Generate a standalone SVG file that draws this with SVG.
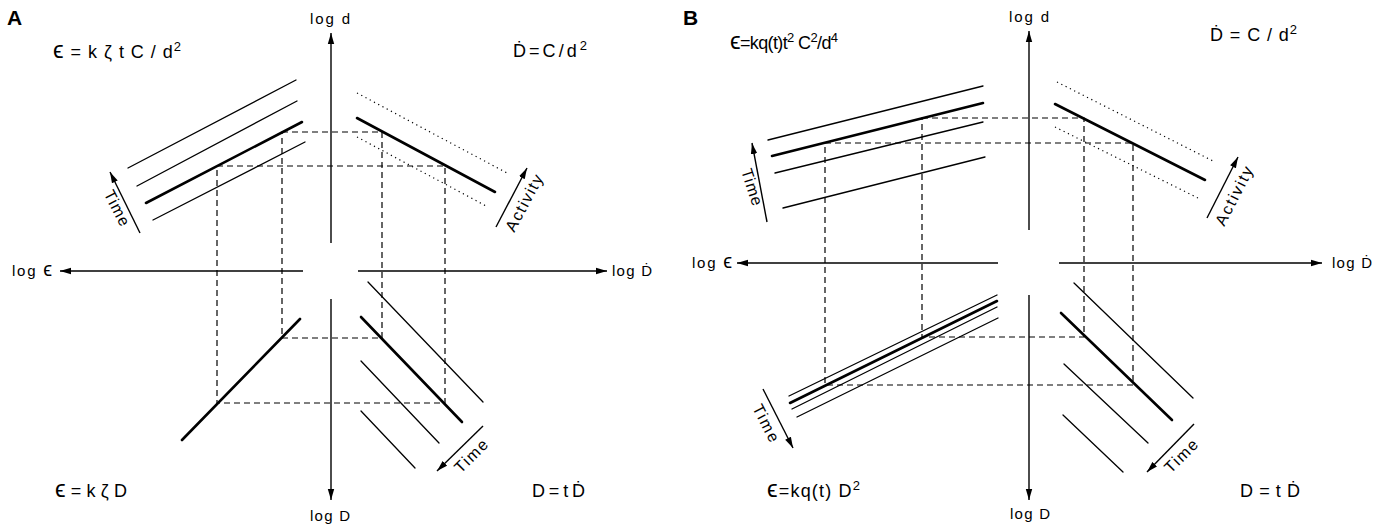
<svg xmlns="http://www.w3.org/2000/svg" width="1386" height="527" viewBox="0 0 1386 527">
<defs>
<marker id="ah" markerUnits="userSpaceOnUse" markerWidth="12" markerHeight="8" refX="11" refY="4" orient="auto">
<path d="M0,0.8 L11,4 L0,7.2 Z" fill="#000"/>
</marker>
<style>
.ln{stroke:#000;stroke-width:1.3;fill:none;stroke-linecap:round}
.tk{stroke:#000;stroke-width:2.6;fill:none;stroke-linecap:round}
.ds{stroke:#000;stroke-width:1.2;fill:none;stroke-dasharray:6 4}
.dt{stroke:#000;stroke-width:1.2;fill:none;stroke-dasharray:1.2 3.6}
.ax{stroke:#000;stroke-width:1.4;fill:none;marker-end:url(#ah)}
text{font-family:"Liberation Sans","DejaVu Sans",sans-serif;fill:#000}
.eq{font-size:18px}
.lb{font-size:15px}
.sm{font-size:16px}
.pl{font-size:21px;font-weight:bold}
.ep{font-size:24px}
.lep{font-size:20px}
</style>
</defs>
<rect width="1386" height="527" fill="#fff"/>

<g id="panelA">
<text id="labelA" class="pl" x="7" y="25">A</text>
<g id="A-axes">
<line class="ax" x1="331" y1="243" x2="331" y2="33"/>
<line class="ax" x1="331" y1="299" x2="331" y2="500"/>
<line class="ax" x1="303" y1="271" x2="60" y2="271"/>
<line class="ax" x1="358" y1="271" x2="607" y2="271"/>
</g>
<g id="A-connectors">
<path class="ds" d="M282,132 H382 V338 H282 Z"/>
<path class="ds" d="M217,166 H445 V403 H217 Z"/>
</g>
<g id="A-q1">
<line class="ln" x1="128" y1="168" x2="296" y2="80"/>
<line class="ln" x1="137" y1="186" x2="297" y2="101"/>
<line class="tk" x1="146" y1="203" x2="302" y2="122"/>
<line class="ln" x1="153" y1="220" x2="305" y2="142"/>
<line class="ax" x1="140" y1="233" x2="110" y2="172"/>
<text class="sm" x="117" y="208" text-anchor="middle" dominant-baseline="central" textLength="38" transform="rotate(63 117 208)">Time</text>
</g>
<g id="A-q2">
<line class="dt" x1="357" y1="93" x2="507" y2="173"/>
<line class="tk" x1="357" y1="118" x2="495" y2="192"/>
<line class="dt" x1="357" y1="137" x2="488" y2="207"/>
<line class="ax" x1="496" y1="227" x2="527" y2="168"/>
<text class="sm" x="524" y="203" text-anchor="middle" dominant-baseline="central" textLength="62" transform="rotate(-62 524 203)">Activity</text>
</g>
<g id="A-q3">
<line class="tk" x1="182" y1="440" x2="300" y2="319"/>
</g>
<g id="A-q4">
<line class="ln" x1="368" y1="282" x2="483" y2="402"/>
<line class="tk" x1="361" y1="317" x2="462" y2="422"/>
<line class="ln" x1="361" y1="361" x2="439" y2="443"/>
<line class="ln" x1="361" y1="411" x2="415" y2="468"/>
<line class="ax" x1="483" y1="426" x2="437" y2="471"/>
<text class="sm" x="471" y="456" text-anchor="middle" dominant-baseline="central" textLength="40" transform="rotate(-45 471 456)">Time</text>
</g>
<g id="A-labels">
<text class="eq" x="53" y="58" textLength="128"><tspan class="ep">ϵ</tspan> = k ζ t C / d<tspan dy="-7" font-size="13">2</tspan></text>
<text class="eq" x="513" y="57" textLength="74">Ḋ=C/d<tspan dy="-7" font-size="13">2</tspan></text>
<text class="eq" x="55" y="497" textLength="72"><tspan class="ep">ϵ</tspan> = k ζ D</text>
<text class="eq" x="532" y="497" textLength="53">D = t Ḋ</text>
<text class="lb" x="310" y="24" textLength="40">log d</text>
<text class="lb" x="12" y="276" textLength="40">log <tspan class="lep">ϵ</tspan></text>
<text class="lb" x="612" y="276" textLength="40">log Ḋ</text>
<text class="lb" x="310" y="521" textLength="40">log D</text>
</g>
</g>

<g id="panelB">
<text id="labelB" class="pl" x="683" y="25">B</text>
<g id="B-axes">
<line class="ax" x1="1029" y1="230" x2="1029" y2="31"/>
<line class="ax" x1="1029" y1="295" x2="1029" y2="500"/>
<line class="ax" x1="998" y1="263" x2="737" y2="263"/>
<line class="ax" x1="1059" y1="263" x2="1322" y2="263"/>
</g>
<g id="B-connectors">
<path class="ds" d="M922,118 H1084 V337 H922 Z"/>
<path class="ds" d="M825,143 H1133 V385 H825 Z"/>
</g>
<g id="B-q1">
<line class="ln" x1="768" y1="140" x2="983" y2="86"/>
<line class="tk" x1="772" y1="156" x2="983" y2="103"/>
<line class="ln" x1="775" y1="173" x2="983" y2="122"/>
<line class="ln" x1="783" y1="208" x2="985" y2="157"/>
<line class="ax" x1="767" y1="222" x2="752" y2="143"/>
<text class="sm" x="752" y="187" text-anchor="middle" dominant-baseline="central" textLength="38" transform="rotate(72 752 187)">Time</text>
</g>
<g id="B-q2">
<line class="dt" x1="1057" y1="82" x2="1215" y2="162"/>
<line class="tk" x1="1055" y1="104" x2="1205" y2="180"/>
<line class="dt" x1="1055" y1="127" x2="1198" y2="198"/>
<line class="ax" x1="1207" y1="218" x2="1238" y2="157"/>
<text class="sm" x="1234" y="196" text-anchor="middle" dominant-baseline="central" textLength="64" transform="rotate(-63 1234 196)">Activity</text>
</g>
<g id="B-q3">
<line class="ln" x1="789" y1="396" x2="997" y2="295"/>
<line class="tk" x1="790" y1="403" x2="997" y2="301"/>
<line class="ln" x1="792" y1="409" x2="997" y2="307"/>
<line class="ln" x1="797" y1="417" x2="998" y2="318"/>
<line class="ax" x1="763" y1="389" x2="793" y2="448"/>
<text class="sm" x="766" y="423" text-anchor="middle" dominant-baseline="central" textLength="40" transform="rotate(63 766 423)">Time</text>
</g>
<g id="B-q4">
<line class="ln" x1="1074" y1="283" x2="1193" y2="398"/>
<line class="tk" x1="1061" y1="313" x2="1172" y2="420"/>
<line class="ln" x1="1064" y1="364" x2="1148" y2="443"/>
<line class="ln" x1="1063" y1="415" x2="1123" y2="472"/>
<line class="ax" x1="1194" y1="424" x2="1147" y2="472"/>
<text class="sm" x="1181" y="456" text-anchor="middle" dominant-baseline="central" textLength="40" transform="rotate(-45 1181 456)">Time</text>
</g>
<g id="B-labels">
<text class="eq" x="730" y="49" textLength="108"><tspan class="ep">ϵ</tspan>=kq(t)t<tspan dy="-7" font-size="13">2</tspan><tspan dy="7"> C</tspan><tspan dy="-7" font-size="13">2</tspan><tspan dy="7">/d</tspan><tspan dy="-7" font-size="13">4</tspan></text>
<text class="eq" x="1210" y="41" textLength="87">Ḋ = C / d<tspan dy="-7" font-size="13">2</tspan></text>
<text class="eq" x="767" y="497" textLength="93"><tspan class="ep">ϵ</tspan>=kq(t) D<tspan dy="-7" font-size="13">2</tspan></text>
<text class="eq" x="1240" y="497" textLength="60">D = t Ḋ</text>
<text class="lb" x="1009" y="22" textLength="40">log d</text>
<text class="lb" x="692" y="268" textLength="40">log <tspan class="lep">ϵ</tspan></text>
<text class="lb" x="1332" y="268" textLength="40">log Ḋ</text>
<text class="lb" x="1010" y="519" textLength="40">log D</text>
</g>
</g>
</svg>
